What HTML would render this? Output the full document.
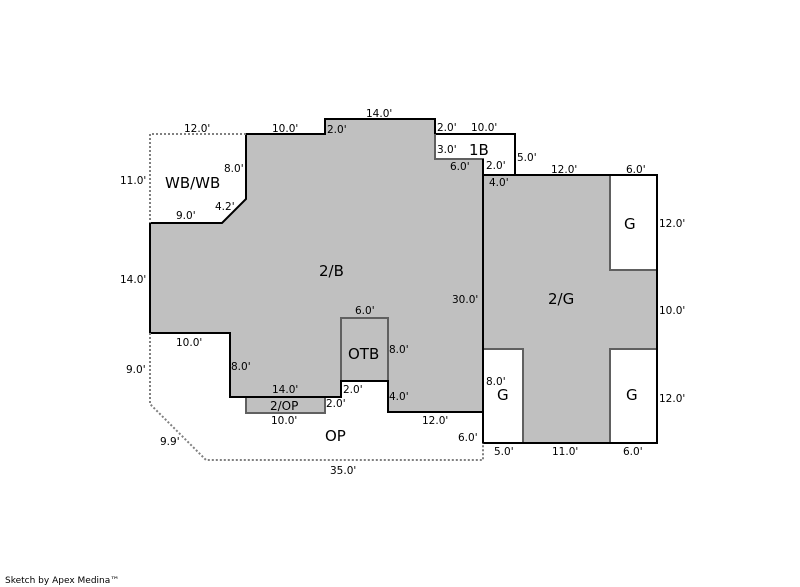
<!DOCTYPE html>
<html><head><meta charset="utf-8"><style>
html,body{margin:0;padding:0;background:#fff;}
svg{display:block;}
text{font-family:"DejaVu Sans","Liberation Sans",sans-serif;font-size:10.5px;fill:#000;}
.b{font-size:15px;}
</style></head><body>
<svg width="800" height="587" viewBox="0 0 800 587" xmlns="http://www.w3.org/2000/svg">
<polygon points="246,134 325,134 325,119 435,119 435,159 483,159 483,412 388,412 388,381 341,381 341,397 230,397 230,333 150,333 150,223 222,223 246,199" fill="#c0c0c0"/>
<rect x="246" y="397" width="79" height="16" fill="#c0c0c0" stroke="#606060" stroke-width="2"/>
<rect x="341" y="318" width="47" height="63" fill="#c0c0c0" stroke="#606060" stroke-width="2"/>
<rect x="483" y="175" width="174" height="268" fill="#c0c0c0"/>
<rect x="610" y="175" width="47" height="95" fill="#fff" stroke="#606060" stroke-width="2"/>
<rect x="610" y="349" width="47" height="94" fill="#fff" stroke="#606060" stroke-width="2"/>
<rect x="483" y="349" width="40" height="94" fill="#fff" stroke="#606060" stroke-width="2"/>
<polyline points="435,134 515,134 515,175" fill="none" stroke="#000" stroke-width="2"/>
<polyline points="435,134 435,159 483,159 483,175" fill="none" stroke="#606060" stroke-width="2"/>
<polyline points="150,223 222,223 246,199 246,134 325,134 325,119 435,119 435,134" fill="none" stroke="#000" stroke-width="2"/>
<polyline points="483,159 483,443" fill="none" stroke="#000" stroke-width="2"/>
<polyline points="150,223 150,333 230,333 230,397 341,397 341,381 388,381 388,412 483,412" fill="none" stroke="#000" stroke-width="2"/>
<polyline points="483,175 657,175 657,443 483,443" fill="none" stroke="#000" stroke-width="2"/>
<polyline points="246,134 150,134 150,223" fill="none" stroke="#808080" stroke-width="2" stroke-dasharray="2,2"/>
<polyline points="150,333 150,404 206,460 483,460 483,443" fill="none" stroke="#808080" stroke-width="2" stroke-dasharray="2,2"/>
<text class="b" x="165" y="188">WB/WB</text>
<text class="b" x="319" y="276">2/B</text>
<text class="b" x="469" y="155">1B</text>
<text class="b" x="348" y="359">OTB</text>
<text class="b" x="548" y="304">2/G</text>
<text class="b" x="624" y="229">G</text>
<text class="b" x="626" y="400">G</text>
<text class="b" x="497" y="400">G</text>
<text class="b" x="325" y="441">OP</text>
<text x="270" y="410" style="font-size:12px">2/OP</text>
<text x="184" y="132">12.0'</text>
<text x="272" y="132">10.0'</text>
<text x="327" y="133">2.0'</text>
<text x="366" y="117">14.0'</text>
<text x="437" y="131">2.0'</text>
<text x="471" y="131">10.0'</text>
<text x="437" y="153">3.0'</text>
<text x="450" y="170">6.0'</text>
<text x="486" y="169">2.0'</text>
<text x="517" y="161">5.0'</text>
<text x="489" y="186">4.0'</text>
<text x="551" y="173">12.0'</text>
<text x="626" y="173">6.0'</text>
<text x="224" y="172">8.0'</text>
<text x="120" y="184">11.0'</text>
<text x="215" y="210">4.2'</text>
<text x="176" y="219">9.0'</text>
<text x="120" y="283">14.0'</text>
<text x="452" y="303">30.0'</text>
<text x="659" y="227">12.0'</text>
<text x="659" y="314">10.0'</text>
<text x="659" y="402">12.0'</text>
<text x="355" y="314">6.0'</text>
<text x="389" y="353">8.0'</text>
<text x="176" y="346">10.0'</text>
<text x="126" y="373">9.0'</text>
<text x="231" y="370">8.0'</text>
<text x="272" y="393">14.0'</text>
<text x="343" y="393">2.0'</text>
<text x="326" y="407">2.0'</text>
<text x="389" y="400">4.0'</text>
<text x="271" y="424">10.0'</text>
<text x="422" y="424">12.0'</text>
<text x="458" y="441">6.0'</text>
<text x="486" y="385">8.0'</text>
<text x="160" y="445">9.9'</text>
<text x="330" y="474">35.0'</text>
<text x="494" y="455">5.0'</text>
<text x="552" y="455">11.0'</text>
<text x="623" y="455">6.0'</text>
<text x="5" y="583" style="font-size:9px">Sketch by Apex Medina™</text>
</svg>
</body></html>
